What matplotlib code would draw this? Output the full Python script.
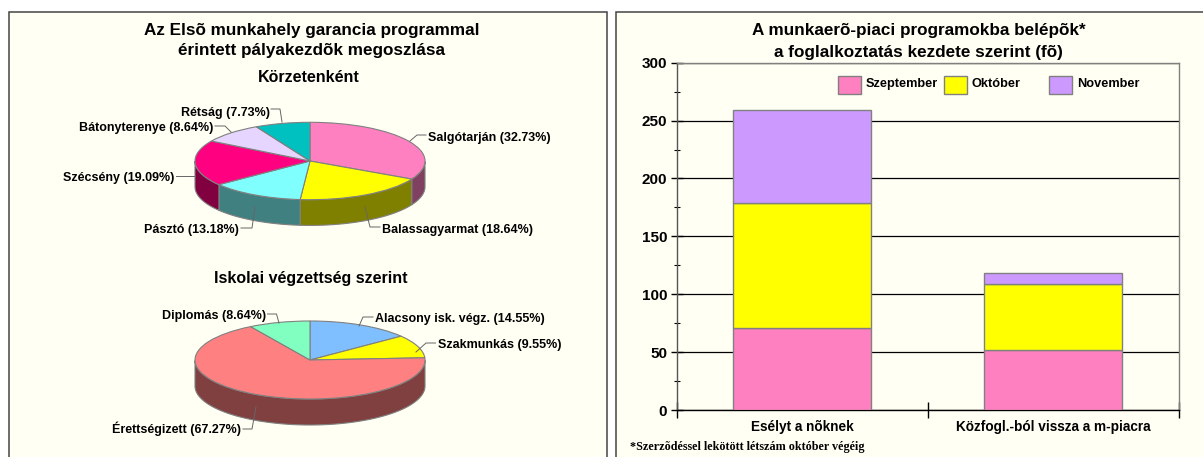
import numpy as np
import matplotlib
matplotlib.use("Agg")
import matplotlib.pyplot as plt
from matplotlib.patches import Rectangle
from matplotlib.colors import to_rgb

plt.rcParams["font.family"] = ["Liberation Sans", "DejaVu Sans"]
plt.rcParams["font.weight"] = "bold"

W, H = 1203, 457

# pie data
district_names = ["Salgótarján", "Balassagyarmat", "Pásztó", "Szécsény", "Bátonyterenye", "Rétság"]
district_share = [32.73, 18.64, 13.18, 19.09, 8.64, 7.73]
district_colors = ["#FF80C0", "#FFFF00", "#80FFFF", "#FF0080", "#E6D5FF", "#00C0C0"]

school_names = ["Alacsony isk. végz.", "Szakmunkás", "Érettségizett", "Diplomás"]
school_share = [14.55, 9.55, 67.27, 8.64]
school_colors = ["#80BFFF", "#FFFF00", "#FF8080", "#80FFC0"]

# bar data
programs = ["Esélyt a nõknek", "Közfogl.-ból vissza a m-piacra"]
months = ["Szeptember", "Október", "November"]
september = [71, 52]
october = [108, 57]
november = [80, 9]
month_colors = ["#FF80C0", "#FFFF00", "#CC99FF"]

PANEL = "#FFFFF4"
EDGE = "#808080"


def px_axes(fig, left, top, right, bottom, zorder):
    return fig.add_axes([left / W, 1 - bottom / H, (right - left) / W, (bottom - top) / H], zorder=zorder)


def pie_3d(fig, cx, cy, rx, ry, depth, share, colors):
    ax = px_axes(fig, cx - rx, cy - ry, cx + rx, cy + ry + depth, 1)
    ax.pie(share, colors=colors, startangle=90, counterclock=False,
           wedgeprops={"edgecolor": EDGE, "linewidth": 0.8})
    ax.set_aspect("auto")
    drop = depth / ry
    ax.set_xlim(-1, 1)
    ax.set_ylim(-1 - drop, 1)
    ax.patch.set_alpha(0)

    # side wall, only the part of the rim facing the viewer
    edges = 90 - 360 * np.concatenate([[0], np.cumsum(share)]) / np.sum(share)
    for a0, a1, col in zip(edges[:-1], edges[1:], colors):
        t = np.linspace(a1, a0, 200)
        t = t[np.sin(np.radians(t)) <= 0]
        if len(t) < 2:
            continue
        x = np.cos(np.radians(t))
        y = np.sin(np.radians(t))
        dark = tuple(c * 0.5 for c in to_rgb(col))
        ax.fill(np.r_[x, x[::-1]], np.r_[y, y[::-1] - drop], facecolor=dark,
                edgecolor=EDGE, linewidth=0.8, zorder=0.5, clip_on=False)
    return ax


fig = plt.figure(figsize=(W / 100, H / 100), dpi=100, facecolor="white")

# background panels
bg = px_axes(fig, 0, 0, W, H, 0)
bg.set_xlim(0, W)
bg.set_ylim(H, 0)
bg.axis("off")
bg.add_patch(Rectangle((9, 12), 598, 470, facecolor=PANEL, edgecolor="#444444", linewidth=1.1))
bg.add_patch(Rectangle((615.5, 12), 620, 470, facecolor=PANEL, edgecolor="#444444", linewidth=1.1))

pie_3d(fig, 310, 161, 115, 38.7, 25.7, district_share, district_colors)
pie_3d(fig, 310, 360, 115, 39, 26, school_share, school_colors)

# stacked bars
ax = px_axes(fig, 677, 62.7, 1178.6, 410, 1)
ax.set_facecolor("none")
xs = np.arange(len(programs))
base = np.zeros(len(programs))
for vals, col in zip([september, october, november], month_colors):
    ax.bar(xs, vals, 0.55, bottom=base, color=col, edgecolor=EDGE, linewidth=1.0, zorder=3)
    base += np.array(vals)
ax.set_xlim(-0.5, 1.5)
ax.set_ylim(0, 300)
ax.set_yticks(np.arange(0, 301, 50))
ax.set_yticks(np.arange(25, 300, 50), minor=True)
ax.grid(axis="y", which="major", color="black", linewidth=0.9, zorder=1)
ax.set_xticks([-0.5, 0.5, 1.5])
ax.set_xticklabels([])
ax.set_xticks(xs, minor=True)
ax.set_xticklabels(programs, minor=True, fontsize=9.8, fontweight="bold")
ax.tick_params(axis="x", which="major", direction="inout", length=11, width=1)
ax.tick_params(axis="x", which="minor", length=0, pad=7)
ax.tick_params(axis="y", which="major", direction="inout", length=8, width=1, labelsize=11, pad=3)
ax.tick_params(axis="y", which="minor", direction="inout", length=5, width=0.8)
for s in ax.spines.values():
    s.set_color(EDGE)
    s.set_linewidth(1.0)
ax.spines["left"].set_color("#555555")
ax.spines["bottom"].set_color("black")

# text, leader lines, legend
top = px_axes(fig, 0, 0, W, H, 2)
top.set_xlim(0, W)
top.set_ylim(H, 0)
top.axis("off")
top.patch.set_alpha(0)


def title(x, y, s, size):
    top.text(x, y, s, ha="center", va="center", fontsize=size, fontweight="bold", color="black")


title(311.8, 30, "Az Elsõ munkahely garancia programmal", 12.3)
title(311.8, 51, "érintett pályakezdõk megoszlása", 12.3)
title(309, 78, "Körzetenként", 11.5)
title(311, 278, "Iskolai végzettség szerint", 11.5)
title(918.5, 30, "A munkaerõ-piaci programokba belépõk*", 12.3)
title(918.5, 52, "a foglalkoztatás kezdete szerint (fõ)", 12.3)


def pct_label(name, val, x, y, ha, leader):
    top.text(x, y, f"{name} ({val:.2f}%)", ha=ha, va="center", fontsize=9, fontweight="bold")
    top.plot(*zip(*leader), color="#666666", linewidth=0.7)


pct_label(district_names[0], district_share[0], 428, 138, "left", [(410, 141), (417, 135), (426, 135)])
pct_label(district_names[1], district_share[1], 382, 230, "left", [(365, 207), (370, 227), (380, 227)])
pct_label(district_names[2], district_share[2], 239, 230, "right", [(255, 207), (252, 228), (241, 228)])
pct_label(district_names[3], district_share[3], 174, 178, "right", [(194.5, 176), (176, 176)])
pct_label(district_names[4], district_share[4], 213, 128, "right", [(231, 132), (225, 126), (215, 126)])
pct_label(district_names[5], district_share[5], 270, 113, "right", [(282, 122), (280, 109), (271, 109)])
pct_label(school_names[0], school_share[0], 375, 319, "left", [(359, 326), (363, 317), (373, 317)])
pct_label(school_names[1], school_share[1], 438, 345, "left", [(416, 352), (426, 343), (435.5, 343)])
pct_label(school_names[2], school_share[2], 241, 429, "right", [(256, 407), (252, 429), (243, 429)])
pct_label(school_names[3], school_share[3], 266, 316, "right", [(279, 323), (276.5, 314), (267.5, 314)])

for name, col, sx, tx in zip(months, month_colors, [838, 943.7, 1049], [865.7, 971, 1076.7]):
    top.add_patch(Rectangle((sx, 76), 23, 17.7, facecolor=col, edgecolor=EDGE, linewidth=1.0))
    top.text(tx, 84, name, ha="left", va="center", fontsize=9.2, fontweight="bold")

top.text(630, 447, "*Szerzõdéssel lekötött létszám október végéig", ha="left", va="center",
         fontsize=8.7, fontweight="bold", family=["Liberation Serif", "DejaVu Serif"])

fig.savefig("out.png", dpi=100, facecolor="white")
